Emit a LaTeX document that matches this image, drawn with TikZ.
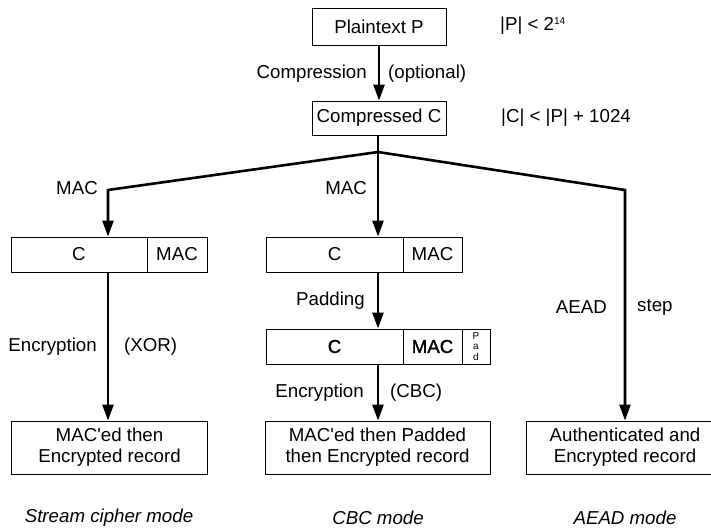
\documentclass[tikz,border=0pt]{standalone}
\usepackage{fontspec}
\setmainfont{Liberation Sans}
\newfontfamily\padfont[FakeBold=1.2]{Liberation Sans}
\usetikzlibrary{arrows.meta}

\begin{document}
\begin{tikzpicture}[
		x=1pt, y=-1pt,
		every node/.style={font=\fontsize{18.7}{21}\selectfont},
		box/.style={rectangle, draw, line width=0.9pt, inner sep=0pt, minimum height=36pt, align=center},
		cell/.style={rectangle, draw, line width=0.9pt, inner sep=0pt, minimum height=35pt},
		flow/.style={line width=2.6pt, -{Triangle[length=16pt,width=11pt]}},
		trunk/.style={line width=2.6pt},
		lbl/.style={inner sep=0pt},
		mode/.style={inner sep=0pt, font=\fontsize{18.7}{21}\selectfont\itshape}
		]
		
		% Frame of the picture
		\useasboundingbox (0,0) rectangle (711,530);
		\clip (0,0) rectangle (711,530);
		
		% Plaintext and compression
		\node[box, minimum width=134pt, minimum height=37pt] (plain) at (379,26.5) {Plaintext P};
		\node[lbl, anchor=west] (plainsize) at (500,26) {|P| < 2\textsuperscript{\fontsize{10}{10}\selectfont 14}};
		\node[box, minimum width=134pt, minimum height=34pt] (comp) at (379,118) {Compressed C};
		\node[lbl, anchor=west] (compsize) at (501,118) {|C| < |P| + 1024};
		\draw[flow] (plain) -- (comp);
		\node[lbl, anchor=east] (complbl) at (367,74) {Compression};
		\node[lbl, anchor=west] (optlbl) at (388,74) {(optional)};
		
		% Branches
		\coordinate (split) at (378,152);
		\coordinate (lbend) at (108,190);
		\coordinate (rbend) at (625,190);
		\draw[trunk] (comp.south -| split) -- (split);
		
		% Stream cipher
		\node[cell, minimum width=136pt] (lc) at (79,254.5) {C};
		\node[cell, minimum width=60pt] (lmac) at (177,254.5) {MAC};
		\draw[flow] (split) -- (lbend) -- (lbend |- lc.north);
		\node[lbl, anchor=east] (lmaclbl) at (98,188) {MAC};
		\node[box, minimum width=196pt, minimum height=53pt] (lrec) at (109.5,447.5) {MAC\textquotesingle ed then\\Encrypted record};
		\draw[flow] (lbend |- lc.south) -- (lbend |- lrec.north);
		\node[lbl, anchor=east] (lenc) at (97,347) {Encryption};
		\node[lbl, anchor=west] (lxor) at (124,347) {(XOR)};
		\node[mode] (lmode) at (109,518) {Stream cipher mode};
		
		% CBC
		\node[cell, minimum width=137pt] (mc) at (334.5,254.5) {C};
		\node[cell, minimum width=59pt] (mmac) at (432.5,254.5) {MAC};
		\draw[flow] (split) -- (split |- mc.north);
		\node[lbl, anchor=east] (mmaclbl) at (367,188) {MAC};
		\node[cell, minimum width=137pt, font=\fontsize{18.7}{21}\padfont] (pc) at (334.5,346.5) {C};
		\node[cell, minimum width=59pt, font=\fontsize{18.7}{21}\padfont] (pmac) at (432.5,346.5) {MAC};
		\node[cell, minimum width=28pt, align=center, font=\fontsize{10}{10.8}\selectfont] (ppad) at (476,346.5) {P\\a\\d};
		\draw[flow] (split |- mc.south) -- (split |- pc.north);
		\node[lbl, anchor=east] (padlbl) at (365,301) {Padding};
		\node[box, minimum width=225pt, minimum height=53pt] (mrec) at (377.5,447.5) {MAC\textquotesingle ed then Padded\\then Encrypted record};
		\draw[flow] (split |- pc.south) -- (split |- mrec.north);
		\node[lbl, anchor=east] (menc) at (364,393) {Encryption};
		\node[lbl, anchor=west] (mcbc) at (390,393) {(CBC)};
		\node[mode] (mmode) at (378,518) {CBC mode};
		
		% AEAD
		\node[box, minimum width=198pt, minimum height=53pt] (rrec) at (625,447.5) {Authenticated and\\Encrypted record};
		\draw[flow] (split) -- (rbend) -- (rbend |- rrec.north);
		\node[lbl, anchor=east] (raead) at (607,307) {AEAD};
		\node[lbl, anchor=west] (rstep) at (637,307) {step};
		\node[mode] (rmode) at (625,518) {AEAD mode};
	\end{tikzpicture}
\end{document}
